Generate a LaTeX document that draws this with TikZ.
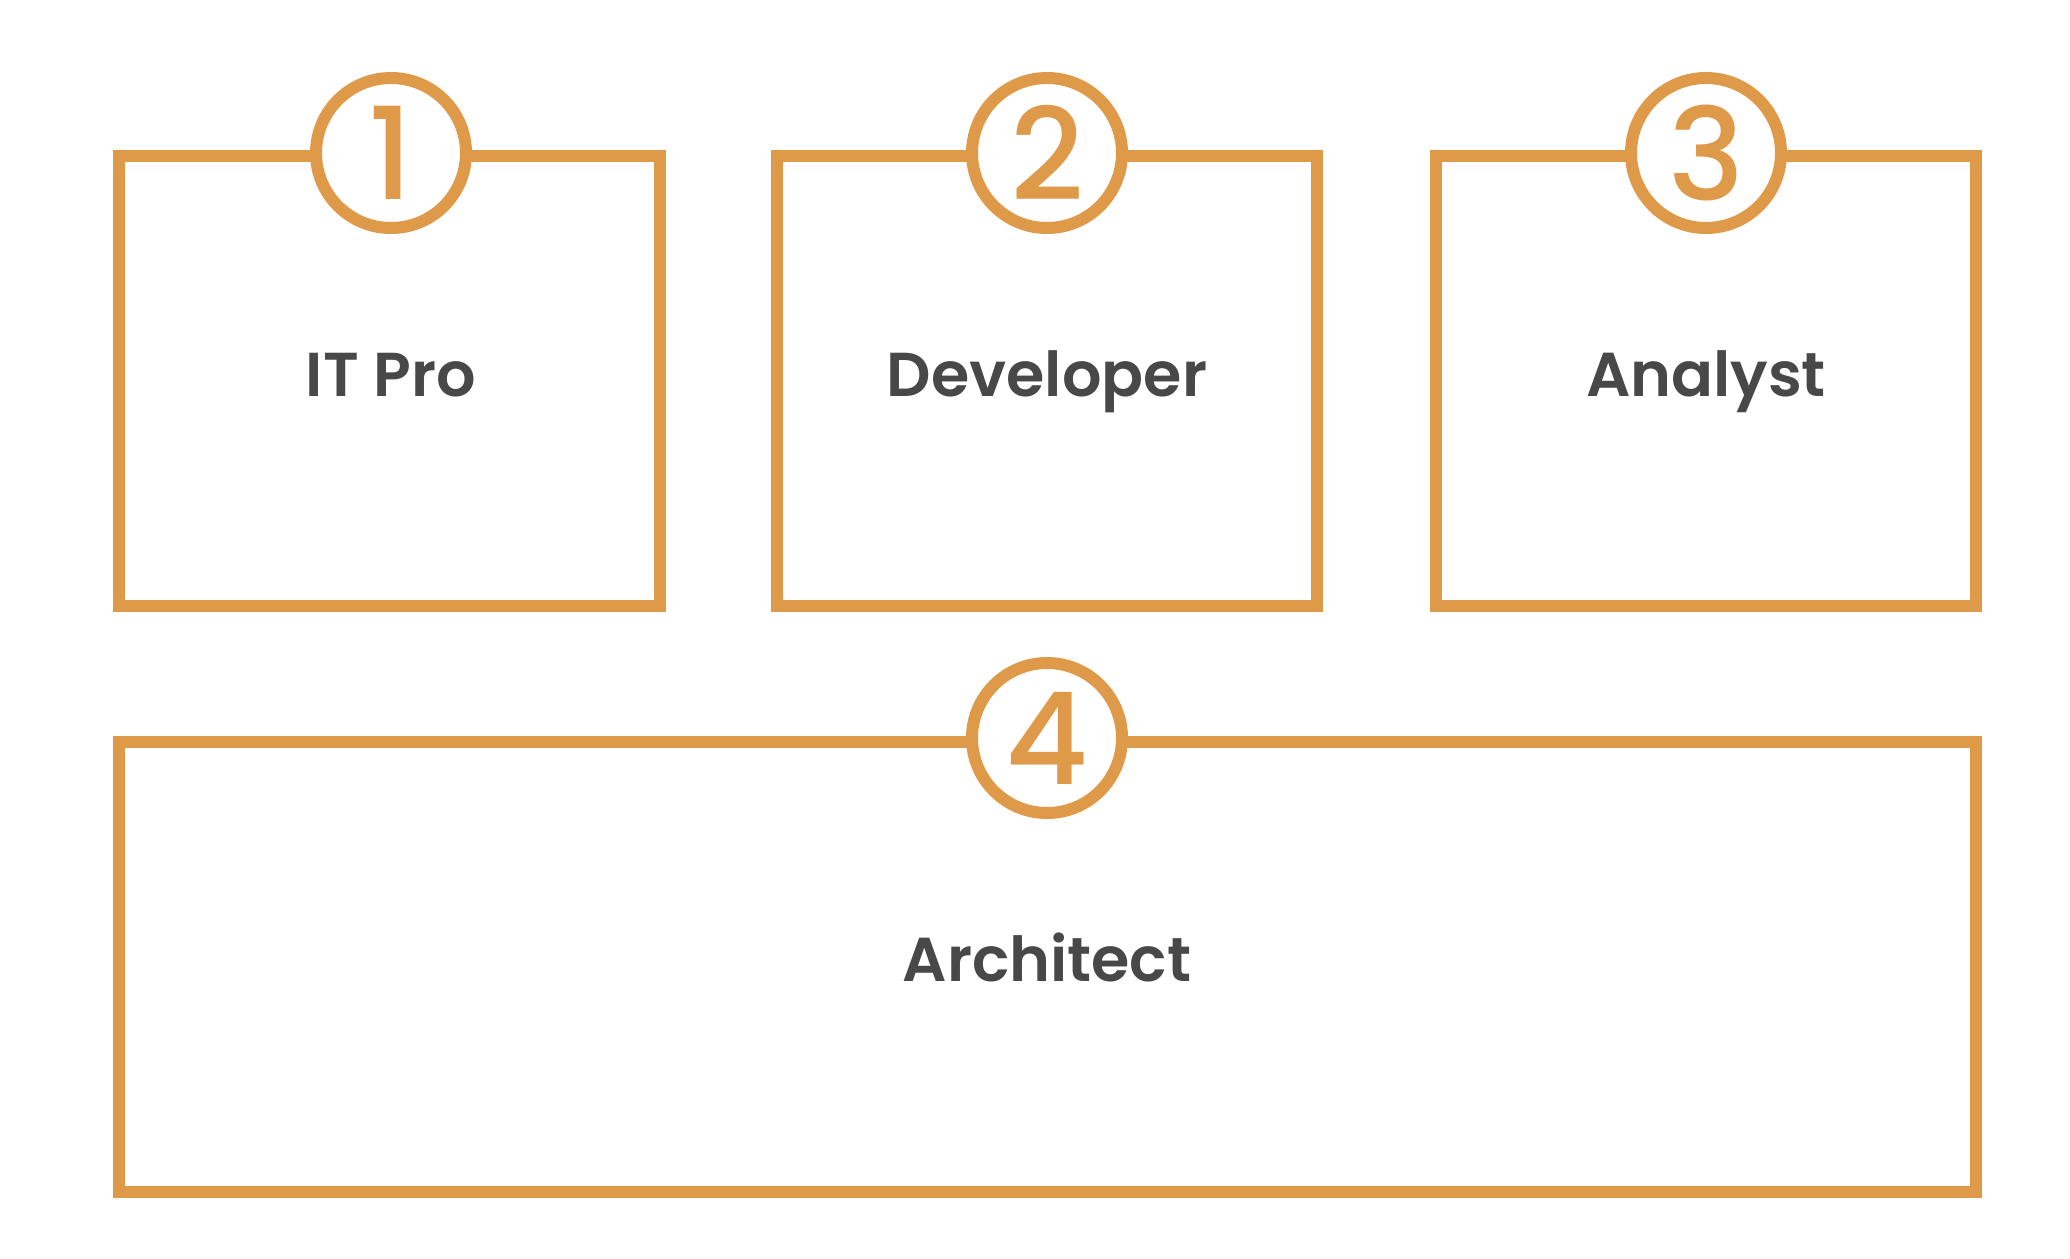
\documentclass[tikz,border=0pt]{standalone}
\usepackage{fontspec}
\setmainfont{Poppins}[BoldFont={* SemiBold}]
\newfontfamily\numfont{Poppins Medium}
\definecolor{orng}{HTML}{DF9A49}
\definecolor{txt}{HTML}{484848}
\begin{document}
\begin{tikzpicture}[x=0.5pt,y=-0.5pt,
  box/.style={draw=orng,line width=6pt,minimum width=#1*0.5pt,minimum height=225pt,inner sep=0pt},
  num/.style={circle,draw=orng,fill=white,line width=6pt,minimum size=75pt,inner sep=0pt,text=orng,font=\numfont\fontsize{64}{64}\selectfont},
  lbl/.style={anchor=base,text=txt,font=\bfseries\fontsize{31}{31}\selectfont}]
\useasboundingbox[fill=white] (0,0) rectangle (2070,1258);
\node[box=541] (b1) at (389.5,381) {};
\node[box=540] (b2) at (1047,381) {};
\node[box=540] (b3) at (1706,381) {};
\node[box=1857,minimum height=225pt] (b4) at (1047.5,967) {};
\node[num] (n1) at (391,153) {1};
\node[num] (n2) at (1047,153) {2};
\node[num] (n3) at (1706,153) {3};
\node[num] (n4) at (1047,738) {4};
\node[lbl] (t1) at (391,396) {IT Pro};
\node[lbl] (t2) at (1047,396) {Developer};
\node[lbl] (t3) at (1706,396) {Analyst};
\node[lbl] (t4) at (1047,981) {Architect};
\end{tikzpicture}
\end{document}
